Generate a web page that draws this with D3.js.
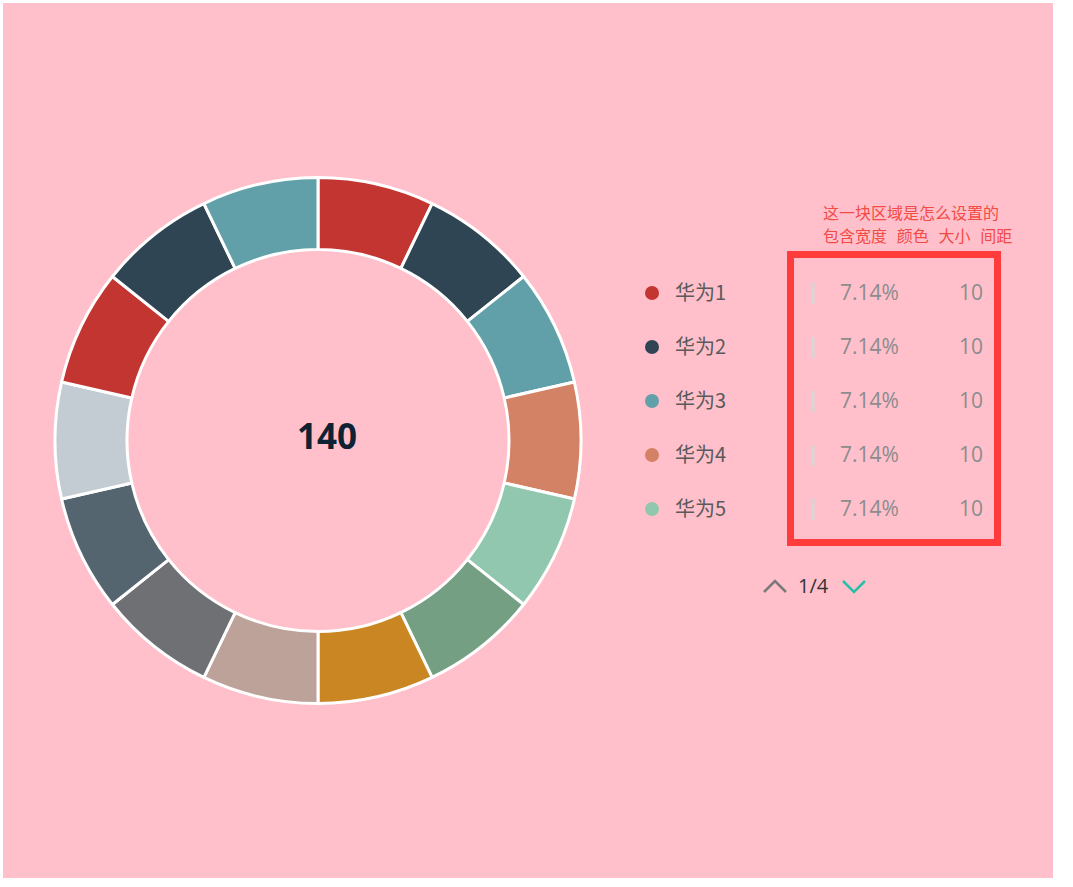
<!DOCTYPE html>
<html><head><meta charset="utf-8">
<script src="https://cdn.jsdelivr.net/npm/d3@7"></script>
<style>
html,body{margin:0;padding:0;background:#fff;}
svg{display:block;font-family:"Noto Sans CJK SC","Noto Sans",sans-serif;}
</style></head>
<body>
<svg id="c" width="1073" height="887"></svg>
<script>
const names = ["华为1","华为2","华为3","华为4","华为5","华为6","华为7","华为8","华为9","华为10","华为11","华为12","华为13","华为14"];
const values = [10,10,10,10,10,10,10,10,10,10,10,10,10,10];
const palette = ["#c23531","#2f4554","#61a0a8","#d48265","#91c7ae","#749f83","#ca8622","#bda29a","#6e7074","#546570","#c4ccd3"];
const annotationLines = ["这一块区域是怎么设置的","包含宽度  颜色  大小  间距"];
const pageSize = 5, currentPage = 1, pageCount = 4;

const svg = d3.select("#c");
svg.append("rect").attr("x",3).attr("y",3).attr("width",1050).attr("height",875).attr("fill","#ffc0cb");

const data = names.map((n,i)=>({name:n,value:values[i]}));
const total = d3.sum(values);
const color = d3.scaleOrdinal().domain(names).range(names.map((_,i)=>palette[i%palette.length]));

const cx=318, cy=440.5, rOut=263, rIn=191;
const pie = d3.pie().value(d=>d.value).sort(null);
const arc = d3.arc().innerRadius(rIn).outerRadius(rOut);
const g = svg.append("g").attr("transform",`translate(${cx},${cy})`);
g.selectAll("path").data(pie(data)).join("path")
  .attr("d",arc).attr("fill",d=>color(d.data.name))
  .attr("stroke","#fff").attr("stroke-width",3).attr("stroke-linejoin","round");
svg.append("text").attr("text-anchor","middle").attr("x",327).attr("y",449)
  .attr("font-size",35).attr("font-weight","bold").attr("fill","#0e2233")
  .attr("font-family","'Open Sans','Noto Sans',sans-serif").text(total);

// legend
const fmt = d3.format(".2f");
const pageItems = data.slice((currentPage-1)*pageSize, currentPage*pageSize);
const y0=293, dy=54;
const yScale = d3.scaleLinear().domain([0,1]).range([y0,y0+dy]);
const lg = svg.append("g");
const row = lg.selectAll("g").data(pageItems).join("g").attr("transform",(d,i)=>`translate(0,${yScale(i)})`);
row.append("circle").attr("cx",652).attr("cy",0).attr("r",7).attr("fill",d=>color(d.name));
row.append("text").attr("x",675).attr("y",7).attr("font-size",20).attr("fill","#5a5a5a").text(d=>d.name);
row.append("rect").attr("x",812).attr("y",-10).attr("width",2.5).attr("height",21).attr("fill","#d6d6d6");
row.append("text").attr("x",840).attr("y",7).attr("font-size",21).attr("fill","#8c8c8c")
  .attr("font-family","'Open Sans','Noto Sans',sans-serif").text(d=>fmt(d.value/total*100)+"%");
row.append("text").attr("x",983).attr("y",7).attr("text-anchor","end").attr("font-size",21).attr("fill","#8c8c8c")
  .attr("font-family","'Open Sans','Noto Sans',sans-serif").text(d=>d.value);

// red box
svg.append("rect").attr("x",790.5).attr("y",254.5).attr("width",207).attr("height",288)
  .attr("fill","none").attr("stroke","#ff3b3b").attr("stroke-width",7);
svg.append("g").selectAll("text").data(annotationLines).join("text")
  .attr("x",823).attr("y",(d,i)=>219+i*23).attr("font-size",16).attr("fill","#f24a45")
  .style("white-space","pre").attr("word-spacing","1.3px").text(d=>d);

// pagination
const pg = svg.append("g");
pg.append("path").attr("d","M764,592 L775,581 L786,592").attr("fill","none").attr("stroke","#7a7a7a").attr("stroke-width",2.5);
pg.append("text").attr("x",798).attr("y",593).attr("font-size",20).attr("fill","#333")
  .attr("font-family","'Open Sans','Noto Sans',sans-serif").text(currentPage+"/"+pageCount);
pg.append("path").attr("d","M843,581 L854,592 L865,581").attr("fill","none").attr("stroke","#2ac0a6").attr("stroke-width",2.5);
</script>
</body></html>
